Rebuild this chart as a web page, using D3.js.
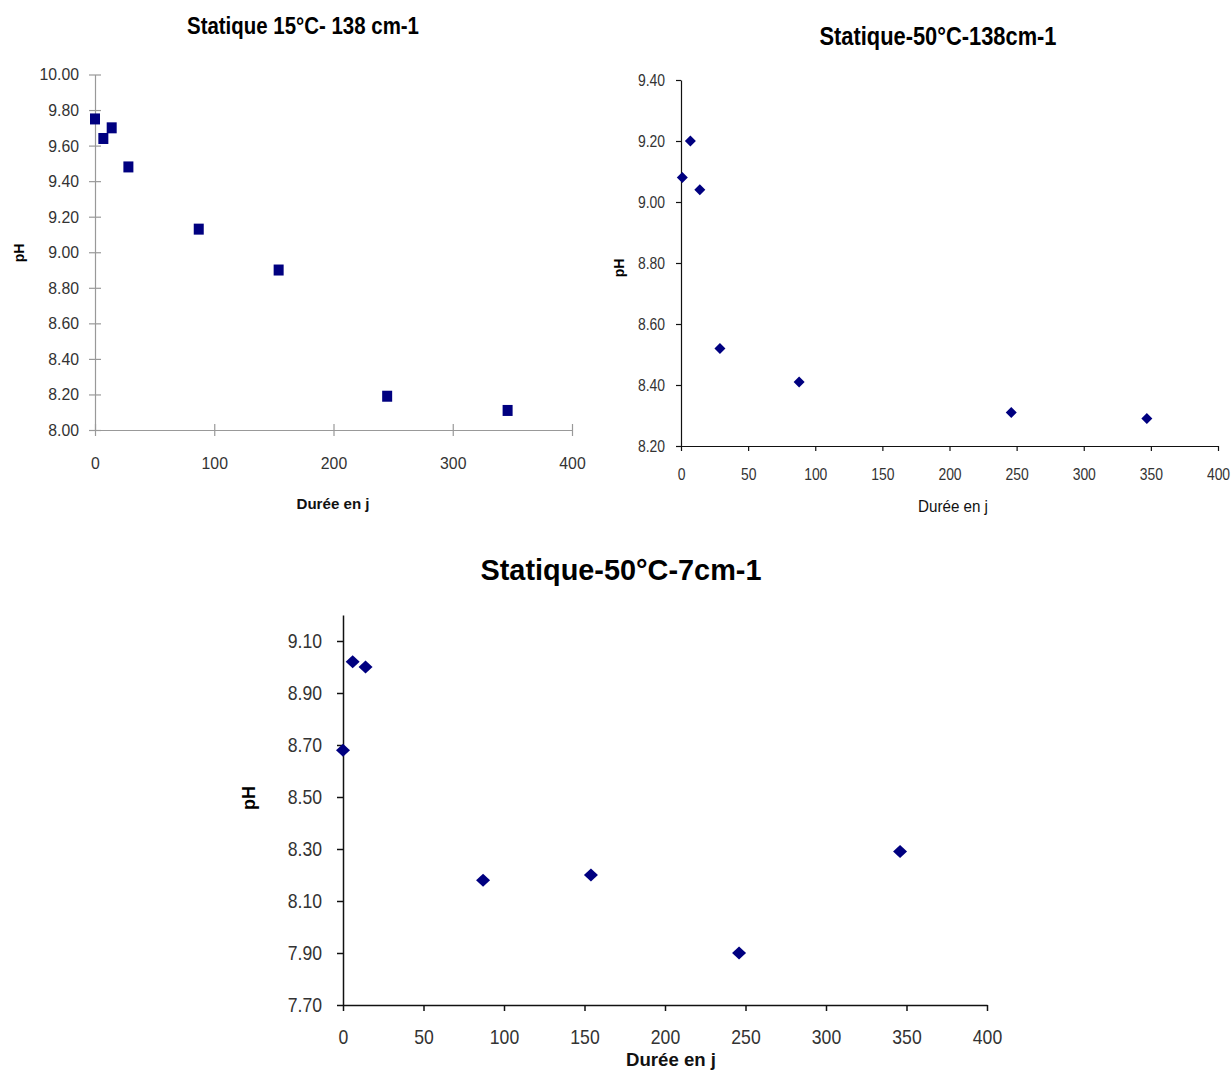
<!DOCTYPE html>
<html><head><meta charset="utf-8">
<script src="https://cdn.jsdelivr.net/npm/d3@7"></script>
<style>
html,body{margin:0;padding:0;background:#fff;}
svg{display:block;}
text{font-family:"Liberation Sans",Arial,sans-serif;}
</style></head>
<body>
<script>
// ---- data ----
const titles = ["Statique 15°C- 138 cm-1", "Statique-50°C-138cm-1", "Statique-50°C-7cm-1"];
const xLabel = "Durée en j";
const yLabel = "pH";

const days1 = [0, 7, 14, 28, 87, 154, 245, 346];
const ph1   = [9.75, 9.64, 9.70, 9.48, 9.13, 8.90, 8.19, 8.11];

const days2 = [1, 7, 14, 29, 88, 246, 347];
const ph2   = [9.08, 9.20, 9.04, 8.52, 8.41, 8.31, 8.29];

const days3 = [0, 6, 14, 87, 154, 246, 346];
const ph3   = [8.68, 9.02, 9.00, 8.18, 8.20, 7.90, 8.29];

const xTicks1 = [0, 100, 200, 300, 400];
const yTicks1 = [8.0, 8.2, 8.4, 8.6, 8.8, 9.0, 9.2, 9.4, 9.6, 9.8, 10.0];
const xTicks2 = [0, 50, 100, 150, 200, 250, 300, 350, 400];
const yTicks2 = [8.2, 8.4, 8.6, 8.8, 9.0, 9.2, 9.4];
const xTicks3 = [0, 50, 100, 150, 200, 250, 300, 350, 400];
const yTicks3 = [7.7, 7.9, 8.1, 8.3, 8.5, 8.7, 8.9, 9.1];

const W = 1231, H = 1073;
const navy = "#000080";
const svg = d3.select("body").append("svg").attr("width", W).attr("height", H);
const fmt = d3.format(".2f");

function diamond(w, h){ return `M0,${-h}L${w},0L0,${h}L${-w},0Z`; }

function squeeze(sel, sx){
  if (sx === 1) return;
  sel.each(function(){
    const t = d3.select(this);
    const x = +t.attr("x") || 0;
    t.attr("x", x / sx).attr("transform", `scale(${sx},1)`);
  });
}

function chart(cfg){
  const g = svg.append("g");
  const x = d3.scaleLinear().domain(cfg.xDomain).range([cfg.x0, cfg.x1]);
  const y = d3.scaleLinear().domain(cfg.yDomain).range([cfg.y0, cfg.y1]);

  // y axis
  const ya = g.append("g").attr("transform", `translate(${cfg.x0},0)`)
    .call(d3.axisLeft(y).tickValues(cfg.yTicks).tickFormat(fmt).tickSizeInner(cfg.tickIn).tickSizeOuter(0).tickPadding(cfg.yPad));
  ya.select(".domain").attr("stroke", cfg.axisColor).attr("stroke-width", cfg.axisW);
  ya.selectAll(".tick line").attr("stroke", cfg.axisColor).attr("stroke-width", cfg.axisW);
  if (cfg.cross) ya.selectAll(".tick line").attr("x1", cfg.tickIn).attr("x2", -cfg.tickIn);
  ya.selectAll(".tick text").attr("fill", cfg.labelColor).attr("font-size", cfg.tickFont)
    .attr("font-family", "Liberation Sans, Arial, sans-serif");
  squeeze(ya.selectAll(".tick text"), cfg.sx);

  // x axis
  const xa = g.append("g").attr("transform", `translate(0,${cfg.y0})`)
    .call(d3.axisBottom(x).tickValues(cfg.xTicks).tickFormat(d3.format("d")).tickSizeInner(cfg.tickIn).tickSizeOuter(0).tickPadding(cfg.xPad));
  xa.select(".domain").attr("stroke", cfg.axisColor).attr("stroke-width", cfg.axisW);
  xa.selectAll(".tick line").attr("stroke", cfg.axisColor).attr("stroke-width", cfg.axisW);
  if (cfg.cross) xa.selectAll(".tick line").attr("y1", -cfg.tickIn).attr("y2", cfg.tickIn);
  xa.selectAll(".tick text").attr("fill", cfg.labelColor).attr("font-size", cfg.tickFont)
    .attr("font-family", "Liberation Sans, Arial, sans-serif");
  squeeze(xa.selectAll(".tick text"), cfg.sx);

  // points
  const pts = cfg.days.map((d, i) => ({d, v: cfg.vals[i]}));
  if (cfg.marker === "square") {
    g.selectAll("rect.pt").data(pts).enter().append("rect").attr("class", "pt")
      .attr("x", p => x(p.d) - cfg.mw/2).attr("y", p => y(p.v) - cfg.mh/2)
      .attr("width", cfg.mw).attr("height", cfg.mh).attr("fill", navy);
  } else {
    g.selectAll("path.pt").data(pts).enter().append("path").attr("class", "pt")
      .attr("d", diamond(cfg.mw/2, cfg.mh/2))
      .attr("transform", p => `translate(${x(p.d)},${y(p.v)})`).attr("fill", navy);
  }

  // title
  g.append("text").attr("x", cfg.titleX).attr("y", cfg.titleY).attr("text-anchor", "middle")
    .attr("font-weight", "bold").attr("font-size", cfg.titleFont).attr("fill", "#000")
    .attr("textLength", cfg.titleW).attr("lengthAdjust", "spacingAndGlyphs")
    .text(cfg.title);
  // x label
  g.append("text").attr("x", cfg.xlX).attr("y", cfg.xlY).attr("text-anchor", "middle")
    .attr("font-weight", cfg.xlBold ? "bold" : "normal").attr("font-size", cfg.xlFont).attr("fill", "#111")
    .attr("textLength", cfg.xlW).attr("lengthAdjust", "spacingAndGlyphs")
    .text(xLabel);
  // y label
  g.append("text").attr("transform", `translate(${cfg.ylX},${cfg.ylY}) rotate(-90)`).attr("text-anchor", "middle")
    .attr("font-weight", "bold").attr("font-size", cfg.ylFont).attr("fill", "#000")
    .text(yLabel);
}

chart({
  title: titles[0], days: days1, vals: ph1, xTicks: xTicks1, yTicks: yTicks1,
  xDomain: [0, 400], yDomain: [8.0, 10.0], x0: 95, x1: 572, y0: 430, y1: 74.5,
  axisColor: "#999", axisW: 1.2, labelColor: "#333", tickFont: 17, sx: 0.93, tickIn: 6, cross: true, yPad: 10, xPad: 21,
  marker: "square", mw: 10, mh: 11,
  titleX: 303, titleY: 34, titleFont: 23, titleW: 232,
  xlX: 333, xlY: 509, xlFont: 15, xlW: 73, xlBold: true,
  ylX: 24, ylY: 253, ylFont: 14
});

chart({
  title: titles[1], days: days2, vals: ph2, xTicks: xTicks2, yTicks: yTicks2,
  xDomain: [0, 400], yDomain: [8.2, 9.4], x0: 681, x1: 1218, y0: 446, y1: 80,
  axisColor: "#111", axisW: 1.2, labelColor: "#333", tickFont: 16, sx: 0.87, tickIn: 5, cross: false, yPad: 11, xPad: 18,
  marker: "diamond", mw: 11, mh: 11,
  titleX: 938, titleY: 45, titleFont: 26, titleW: 237,
  xlX: 953, xlY: 512, xlFont: 16, xlW: 70, xlBold: false,
  ylX: 624, ylY: 268, ylFont: 14
});

chart({
  title: titles[2], days: days3, vals: ph3, xTicks: xTicks3, yTicks: yTicks3,
  xDomain: [0, 400], yDomain: [7.7, 9.2], x0: 343, x1: 987, y0: 1005, y1: 615,
  axisColor: "#111", axisW: 1.5, labelColor: "#333", tickFont: 20, sx: 0.88, tickIn: 6, cross: false, yPad: 15, xPad: 19,
  marker: "diamond", mw: 14, mh: 13,
  titleX: 621, titleY: 580, titleFont: 30, titleW: 281,
  xlX: 671, xlY: 1066, xlFont: 18, xlW: 90, xlBold: true,
  ylX: 255, ylY: 798, ylFont: 18
});
</script>
</body></html>
